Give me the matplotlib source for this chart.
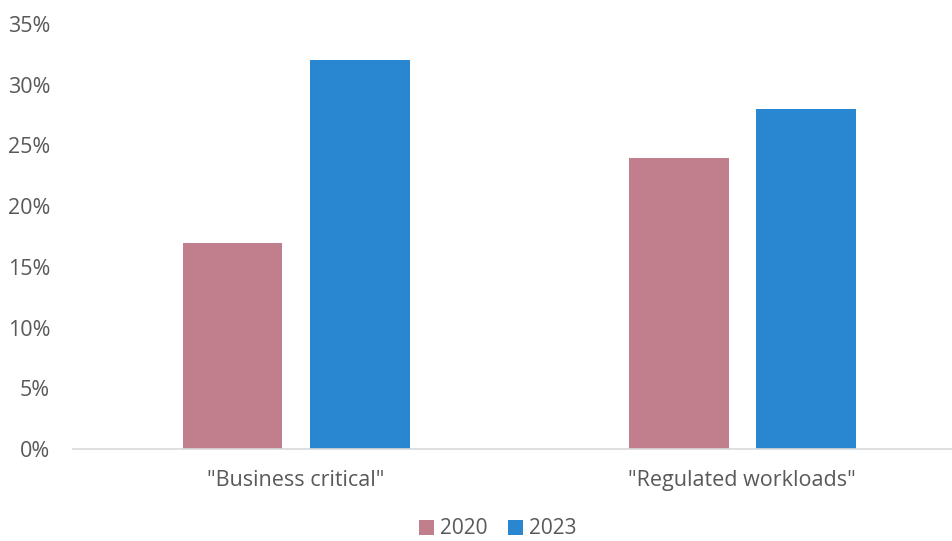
import numpy as np
import matplotlib.pyplot as plt
from matplotlib.ticker import FuncFormatter

# datos
categorias = ['"Business critical"', '"Regulated workloads"']
anios = ['2020', '2023']
valores_2020 = [17, 24]
valores_2023 = [32, 28]
colores = ['#C17F8D', '#2986D1']

plt.rcParams['font.family'] = ['Open Sans', 'DejaVu Sans']

fig = plt.figure(figsize=(9.52, 5.41), dpi=100)
ax = fig.add_axes([73 / 952, 1 - 449 / 541, (952 - 73) / 952, 425 / 541])

x = np.arange(len(categorias))
ancho = 0.224
desp = 0.1425
ax.bar(x - desp, valores_2020, ancho, color=colores[0], label=anios[0])
ax.bar(x + desp, valores_2023, ancho, color=colores[1], label=anios[1])

ax.set_xlim(-0.5, 1.47)
ax.set_ylim(0, 35)
ax.set_yticks(range(0, 36, 5))
ax.yaxis.set_major_formatter(FuncFormatter(lambda v, p: f'{int(v)}%'))
ax.set_xticks(x)
ax.set_xticklabels(categorias)

for s in ['top', 'right', 'left']:
    ax.spines[s].set_visible(False)
ax.spines['bottom'].set_color('#D9D9D9')
ax.spines['bottom'].set_linewidth(1.2)
ax.tick_params(axis='both', length=0, labelsize=15.5, colors='#595959')
ax.tick_params(axis='y', pad=16.5)
ax.tick_params(axis='x', pad=15)

ax.legend(loc='center', bbox_to_anchor=(498 / 952, 1 - 529 / 541), bbox_transform=fig.transFigure,
          ncol=2, frameon=False, fontsize=15, handlelength=0.7, handleheight=0.7,
          handletextpad=0.3, columnspacing=1.0, labelcolor='#595959', borderpad=0.2)

fig.savefig('out.png', dpi=100)
